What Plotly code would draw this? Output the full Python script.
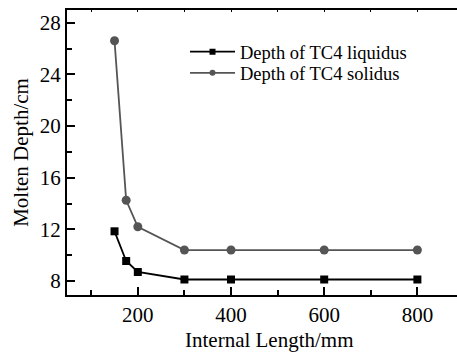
import plotly.graph_objects as go

internal_length = [150, 175, 200, 300, 400, 600, 800]
liquidus_depth = [11.85, 9.55, 8.7, 8.12, 8.12, 8.12, 8.12]
solidus_depth = [26.6, 14.25, 12.2, 10.4, 10.4, 10.4, 10.4]
x_ticks = [200, 400, 600, 800]
y_ticks = [8, 12, 16, 20, 24, 28]

FONT = "Liberation Serif, DejaVu Serif"
C_LIQ = "#000000"
C_SOL = "#555555"

fig = go.Figure()
fig.add_trace(go.Scatter(
    x=internal_length, y=liquidus_depth, mode="lines+markers",
    name="Depth of TC4 liquidus", showlegend=False,
    line=dict(color=C_LIQ, width=1.8),
    marker=dict(symbol="square", size=8, color=C_LIQ),
))
fig.add_trace(go.Scatter(
    x=internal_length, y=solidus_depth, mode="lines+markers",
    name="Depth of TC4 solidus", showlegend=False,
    line=dict(color=C_SOL, width=1.8),
    marker=dict(symbol="circle", size=9, color=C_SOL),
))
fig.add_trace(go.Scatter(
    x=[None], y=[None], mode="lines+markers", name="Depth of TC4 liquidus",
    line=dict(color=C_LIQ, width=1.8), marker=dict(symbol="square", size=6, color=C_LIQ),
    legend="legend",
))
fig.add_trace(go.Scatter(
    x=[None], y=[None], mode="lines+markers", name="Depth of TC4 solidus",
    line=dict(color=C_SOL, width=1.8), marker=dict(symbol="circle", size=6, color=C_SOL),
    legend="legend2",
))
fig.add_trace(go.Scatter(x=[None], y=[None], xaxis="x2", showlegend=False))

leg_common = dict(xanchor="left", yanchor="middle", bgcolor="rgba(0,0,0,0)",
                  font=dict(size=18.5, family=FONT), itemwidth=45)

fig.update_layout(
    width=457, height=353,
    margin=dict(l=67, r=0, t=10, b=58),
    paper_bgcolor="white", plot_bgcolor="white",
    font=dict(family=FONT, color="#000000", size=21),
    showlegend=True,
    legend=dict(x=0.3026, y=0.852, **leg_common),
    legend2=dict(x=0.3026, y=0.778, **leg_common),
    xaxis=dict(
        range=[48, 885], tickvals=x_ticks, ticks="inside", ticklen=8, tickwidth=1.5,
        tickcolor="#000", showline=True, linecolor="#000", linewidth=2,
        showgrid=False, zeroline=False,
        minor=dict(tickvals=[100, 300, 500, 700], ticks="inside", ticklen=5,
                   tickwidth=1.5, tickcolor="#000"),
        tickfont=dict(size=21, family=FONT),
    ),
    xaxis2=dict(
        range=[48, 885], overlaying="x", side="top", tickvals=[100, 200, 300, 400, 500, 600, 700, 800],
        ticks="inside", ticklen=2, tickwidth=1, tickcolor="#000", showticklabels=False,
        showline=True, linecolor="#000", linewidth=2, showgrid=False, zeroline=False,
    ),
    yaxis=dict(
        range=[6.92, 28.98], tickvals=y_ticks, ticks="inside", ticklen=8, tickwidth=1.5,
        tickcolor="#000", showline=True, linecolor="#000", linewidth=2,
        showgrid=False, zeroline=False,
        minor=dict(tickvals=[10, 14, 18, 22, 26], ticks="inside", ticklen=5,
                   tickwidth=1.5, tickcolor="#000"),
        title=dict(text="Molten Depth/cm", font=dict(size=21, family=FONT), standoff=5),
        tickfont=dict(size=21, family=FONT),
    ),
    annotations=[dict(
        text="Internal Length/mm", xref="paper", yref="paper",
        x=0.52, y=-0.158, xanchor="center", yanchor="middle", showarrow=False,
        font=dict(size=21, family=FONT, color="#000000"),
    )],
)

fig.write_html("out.html")
